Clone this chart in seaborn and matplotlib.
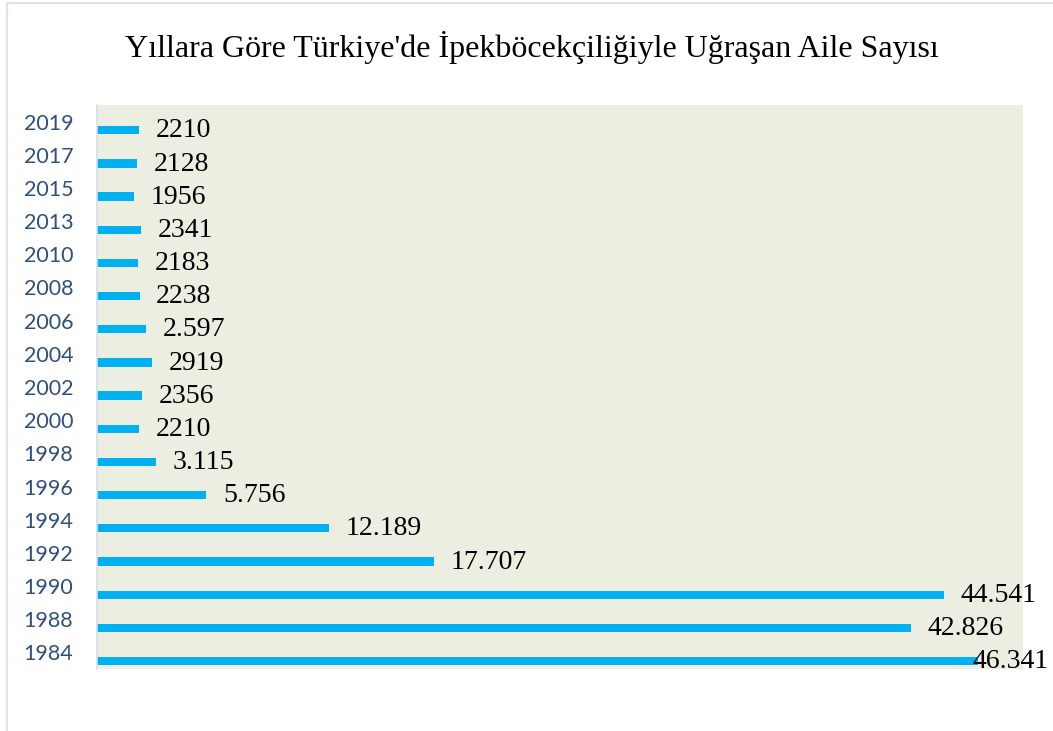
import pandas as pd
import numpy as np
import matplotlib.pyplot as plt
import seaborn as sns
from matplotlib.patches import Rectangle

years = ['2019', '2017', '2015', '2013', '2010', '2008', '2006', '2004', '2002',
         '2000', '1998', '1996', '1994', '1992', '1990', '1988', '1984']
families = [2210, 2128, 1956, 2341, 2183, 2238, 2597, 2919, 2356,
            2210, 3115, 5756, 12189, 17707, 44541, 42826, 46341]
value_labels = ['2210', '2128', '1956', '2341', '2183', '2238', '2.597', '2919', '2356',
                '2210', '3.115', '5.756', '12.189', '17.707', '44.541', '42.826', '46.341']

df = pd.DataFrame({'Year': years, 'Aile': families})

sns.set_style('white')
fig = plt.figure(figsize=(10.53, 7.31), dpi=100)
ax = fig.add_axes([0.0921, 0.0848, 0.8794, 0.7716])

sns.barplot(data=df, y='Year', x='Aile', order=years, orient='h',
            color='#00B0F0', saturation=1, width=0.25, ax=ax)

# Excel-style offset: bars sit a bit below the category label
for p in ax.patches:
    p.set_y(p.get_y() + 0.26)
    p.set_edgecolor('none')

ax.set_facecolor('#EBEEE0')
ax.set_xlim(0, 48700)
ax.set_ylim(len(years) - 0.5, -0.5)
ax.set_xticks([])
ax.set_xlabel('')
ax.set_ylabel('')
for s in ['top', 'right', 'bottom']:
    ax.spines[s].set_visible(False)
ax.spines['left'].set_color('#D6DEEE')
ax.spines['left'].set_linewidth(1.2)
ax.tick_params(axis='y', length=0, pad=17, labelsize=15.5, labelcolor='#2E4F7F')
for t in ax.get_yticklabels():
    t.set_fontfamily('Lato')

for i, (v, lab) in enumerate(zip(families, value_labels)):
    # the longest bar's label is pushed back inside the chart area
    off = -4 if v == max(families) else 12
    ax.annotate(lab, (v, i + 0.28), xytext=(off, 0), textcoords='offset points',
                ha='left', va='center', fontsize=20, family='Liberation Serif',
                color='black', annotation_clip=False)

fig.text(0.505, 0.935, "Yıllara Göre Türkiye'de İpekböcekçiliğiyle Uğraşan Aile Sayısı",
         ha='center', va='center', fontsize=23, family='Liberation Serif', color='black')

# faint outer chart border
fig.add_artist(Rectangle((0.0066, -0.01), 1.2, 1.006, transform=fig.transFigure,
                         fill=False, edgecolor='#DCE4F2', linewidth=1.5))

fig.savefig('out.png', dpi=100)
